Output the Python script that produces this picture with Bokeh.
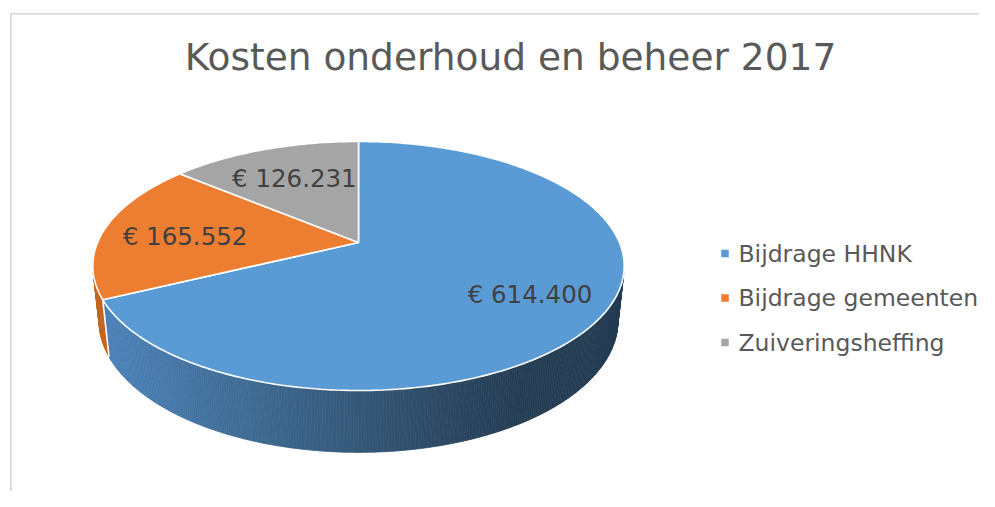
import numpy as np
from bokeh.plotting import figure
from bokeh.models import Range1d
from bokeh.embed import file_html
from bokeh.resources import INLINE
from bokeh.core.properties import value

# ---------------- data ----------------
title = "Kosten onderhoud en beheer 2017"
categories = ["Bijdrage HHNK", "Bijdrage gemeenten", "Zuiveringsheffing"]
amounts = [614400, 165552, 126231]
amount_labels = ["€ 614.400", "€ 165.552", "€ 126.231"]

# ---------------- style ----------------
top_colors = ["#5B9BD5", "#ED7D31", "#A5A5A5"]
side_flat = [None, "#C4661F", "#878787"]
FONT = "DejaVu Sans"

W, H = 979, 491
p = figure(width=W, height=H, x_range=Range1d(0, W), y_range=Range1d(H, 0),
           output_backend="svg", toolbar_location=None, min_border=0,
           x_axis_type=None, y_axis_type=None)
p.grid.visible = False
p.outline_line_color = None
p.background_fill_color = "white"
p.border_fill_color = "white"

# chart border
p.line([10.3, 10.3, W], [H, 13.3, 13.3], line_color="#d6d6d6", line_width=1.6)

# ---------------- 3D perspective projection ----------------
CX, CY = 358.0, 242.0
FOC = 1229.0
DIST = 4.71
ALPHA = np.radians(27.4)
ca, sa = np.cos(ALPHA), np.sin(ALPHA)
DEPTH = 0.238


def proj(x, y, z):
    d = DIST + y * ca - z * sa
    up = y * sa + z * ca
    return CX + FOC * x / d, CY - FOC * up / d


def rim(theta, r=1.0, z=0.0):
    return proj(r * np.sin(theta), r * np.cos(theta), z)


total = float(sum(amounts))
fr = np.array(amounts) / total
ends = np.cumsum(fr) * 2 * np.pi
starts = np.concatenate([[0.0], ends[:-1]])

# visible part of the side wall
th_lo = np.arccos(-1.0 / (DIST * ca))
th_hi = 2 * np.pi - th_lo

x_left = rim(-np.pi / 2)[0]
x_right = rim(np.pi / 2)[0]
grad_stops = [(0.0, (76, 130, 184)), (0.02, (75, 129, 183)), (0.37, (59, 99, 136)),
              (0.64, (45, 74, 102)), (0.81, (36, 61, 84)), (1.0, (35, 59, 81))]


def grad_color(xpix):
    t = (xpix - x_left) / (x_right - x_left)
    t = min(max(t, 0.0), 1.0)
    for (t0, c0), (t1, c1) in zip(grad_stops[:-1], grad_stops[1:]):
        if t0 <= t <= t1:
            u = (t - t0) / (t1 - t0) if t1 > t0 else 0
            c = [int(round(a + (b - a) * u)) for a, b in zip(c0, c1)]
            return "#%02x%02x%02x" % tuple(c)
    return "#%02x%02x%02x" % grad_stops[-1][1]


wall_xs, wall_ys, wall_cols = [], [], []
for i in range(len(amounts)):
    a0 = max(starts[i], th_lo)
    a1 = min(ends[i], th_hi)
    if a1 <= a0:
        continue
    n = max(2, int(np.degrees(a1 - a0) / 0.5))
    ts = np.linspace(a0, a1, n + 1)
    for k in range(n):
        t0, t1 = ts[k], ts[k + 1]
        x0t, y0t = rim(t0)
        x1t, y1t = rim(t1)
        x1b, y1b = rim(t1, z=-DEPTH)
        x0b, y0b = rim(t0, z=-DEPTH)
        wall_xs.append([x0t, x1t, x1b, x0b])
        wall_ys.append([y0t, y1t, y1b, y0b])
        if side_flat[i] is None:
            wall_cols.append(grad_color((x0t + x1t) / 2))
        else:
            wall_cols.append(side_flat[i])

p.patches(wall_xs, wall_ys, fill_color=wall_cols, line_color=wall_cols, line_width=0.7)

# white separators on the wall at slice boundaries
for b in ends[:-1]:
    if th_lo < b < th_hi:
        xt, yt = rim(b)
        xb, yb = rim(b, z=-DEPTH)
        p.line([xt, xb], [yt, yb], line_color="white", line_width=1.6)

# top surface
top_xs, top_ys = [], []
for i in range(len(amounts)):
    ts = np.linspace(starts[i], ends[i], max(3, int(np.degrees(ends[i] - starts[i]))))
    xs, ys = rim(ts)
    top_xs.append([CX] + list(xs))
    top_ys.append([CY] + list(ys))
p.patches(top_xs, top_ys, fill_color=top_colors, line_color="white", line_width=1.6)

# data labels
mids = (starts + ends) / 2
lx, ly = rim(mids, r=0.70)
p.text(x=list(lx + 5), y=list(ly + 4), text=amount_labels, text_font=value(FONT),
       text_font_size="24.5px", text_color="#404040", text_align="center",
       text_baseline="alphabetic")

# title
p.text(x=[510], y=[56], text=[title], text_font=value(FONT), text_font_size="37.5px",
       text_color="#595959", text_align="center", text_baseline="alphabetic")

# legend
leg_y = [253 + 44.5 * i for i in range(len(categories))]
p.rect(x=[724.5] * len(categories), y=leg_y, width=7.5, height=7.5,
       fill_color=top_colors, line_color=None)
p.text(x=[738] * len(categories), y=leg_y, text=categories,
       text_font=value(FONT), text_font_size="23.5px", text_color="#595959",
       text_align="left", text_baseline="alphabetic")

open("out.html", "w").write(file_html(p, INLINE))
